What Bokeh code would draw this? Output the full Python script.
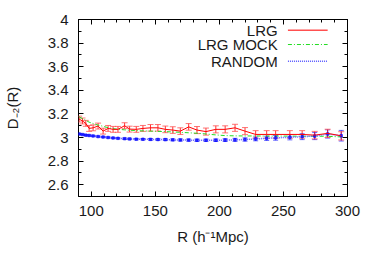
from bokeh.plotting import figure
from bokeh.models import (ColumnDataSource, Whisker, TeeHead, LinearAxis,
                          SingleIntervalTicker, Range1d, CustomJSTickFormatter)
from bokeh.core.properties import value
from bokeh.embed import file_html
from bokeh.resources import INLINE

# ---- data ----
r = [90.5, 93.1, 95.7, 98.3, 101.4, 105.3, 109.2, 113.1, 117.0, 120.8,
     126.0, 129.9, 135.1, 140.3, 146.2, 152.0, 157.8, 163.6, 169.5, 176.0,
     182.5, 189.5, 197.2, 204.5, 212.2, 220.0, 228.3, 236.9, 243.9, 255.0,
     264.6, 274.4, 284.5, 295.1]
lrg = [3.156, 3.140, 3.120, 3.077, 3.082, 3.097, 3.054, 3.077, 3.069, 3.069,
       3.100, 3.071, 3.069, 3.077, 3.082, 3.082, 3.069, 3.063, 3.054, 3.090,
       3.063, 3.050, 3.069, 3.069, 3.082, 3.054, 3.026, 3.026, 3.026, 3.026,
       3.026, 3.020, 3.035, 3.014]
lrg_err = [0.025, 0.025, 0.025, 0.025, 0.025, 0.025, 0.025, 0.025, 0.025, 0.025,
           0.025, 0.025, 0.025, 0.025, 0.028, 0.028, 0.028, 0.028, 0.028, 0.028,
           0.030, 0.030, 0.030, 0.030, 0.030, 0.030, 0.032, 0.032, 0.032, 0.032,
           0.032, 0.032, 0.035, 0.035]
mock = [3.175, 3.160, 3.145, 3.130, 3.118, 3.105, 3.095, 3.083, 3.075, 3.070,
        3.065, 3.062, 3.058, 3.056, 3.054, 3.052, 3.050, 3.047, 3.044, 3.040,
        3.036, 3.030, 3.022, 3.016, 3.014, 3.013, 3.013, 3.012, 3.012, 3.012,
        3.011, 3.011, 3.010, 3.005]
rand = [3.030, 3.025, 3.020, 3.017, 3.013, 3.008, 3.004, 3.000, 2.996, 2.993,
        2.990, 2.988, 2.986, 2.985, 2.984, 2.983, 2.982, 2.980, 2.979, 2.978,
        2.977, 2.977, 2.977, 2.978, 2.980, 2.983, 2.988, 2.993, 2.997, 3.002,
        3.007, 3.012, 3.030, 3.015]
rand_err = [0.005, 0.005, 0.005, 0.005, 0.005, 0.005, 0.005, 0.005, 0.005, 0.005,
            0.006, 0.006, 0.006, 0.006, 0.007, 0.007, 0.008, 0.008, 0.009, 0.009,
            0.010, 0.010, 0.011, 0.012, 0.013, 0.014, 0.016, 0.018, 0.020, 0.022,
            0.025, 0.030, 0.035, 0.045]
legend_labels = ["LRG", "LRG MOCK", "RANDOM"]
x_ticks = [100, 150, 200, 250, 300]
y_ticks = [2.6, 2.8, 3.0, 3.2, 3.4, 3.6, 3.8, 4.0]

RED = "#ff0000"
GREEN = "#22dd22"
BLUE = "#0000ff"
BLUE_LINE = "#5a5aff"
FONT = "Liberation Sans"
FS = "15px"

src = ColumnDataSource(dict(
    r=r, lrg=lrg, mock=mock, rand=rand,
    lrg_lo=[a - b for a, b in zip(lrg, lrg_err)],
    lrg_hi=[a + b for a, b in zip(lrg, lrg_err)],
    rand_lo=[a - b for a, b in zip(rand, rand_err)],
    rand_hi=[a + b for a, b in zip(rand, rand_err)],
))

p = figure(width=374, height=262, x_range=Range1d(90, 300), y_range=Range1d(2.5, 4.0),
           output_backend="svg", toolbar_location=None,
           min_border_left=77, min_border_right=27, min_border_top=19, min_border_bottom=66,
           x_axis_label="R (h\u207b\u00b9Mpc)", y_axis_label="D\u208b\u2082(R)")
p.grid.visible = False
p.outline_line_color = "black"
p.outline_line_width = 1
p.background_fill_color = "white"
p.border_fill_color = "white"

p.xaxis.ticker = SingleIntervalTicker(interval=50, num_minor_ticks=5)
p.yaxis.ticker = SingleIntervalTicker(interval=0.2, num_minor_ticks=2)

def style(ax):
    ax.axis_line_color = None
    ax.major_tick_in = 5
    ax.major_tick_out = 0
    ax.minor_tick_in = 3
    ax.minor_tick_out = 0
    ax.major_tick_line_color = "black"
    ax.minor_tick_line_color = "black"
    ax.major_label_text_font = FONT
    ax.major_label_text_font_size = FS
    ax.major_label_text_color = "#1a1a1a"
    ax.axis_label_text_font = FONT
    ax.axis_label_text_font_size = FS
    ax.axis_label_text_font_style = "normal"
    ax.axis_label_text_color = "#1a1a1a"

style(p.xaxis[0])
style(p.yaxis[0])
p.xaxis.major_label_standoff = 9
p.yaxis.major_label_standoff = 10
p.xaxis.axis_label_standoff = 9
p.yaxis.axis_label_standoff = 24

# mirrored tick marks on top and right, without labels
top = LinearAxis(ticker=SingleIntervalTicker(interval=50, num_minor_ticks=5),
                 formatter=CustomJSTickFormatter(code="return ''"))
right = LinearAxis(ticker=SingleIntervalTicker(interval=0.2, num_minor_ticks=2),
                   formatter=CustomJSTickFormatter(code="return ''"))
style(top)
style(right)
top.major_label_standoff = 0
right.major_label_standoff = 0
p.add_layout(top, "above")
p.add_layout(right, "right")

# LRG MOCK
p.line("r", "mock", source=src, color=GREEN, line_width=1, line_dash="4 2 1 2")
# RANDOM
p.add_layout(Whisker(base="r", lower="rand_lo", upper="rand_hi", source=src,
                     line_color=BLUE, line_width=1, line_alpha=0.75,
                     upper_head=TeeHead(size=5, line_color=BLUE, line_alpha=0.6),
                     lower_head=TeeHead(size=5, line_color=BLUE, line_alpha=0.6)))
p.line("r", "rand", source=src, color=BLUE_LINE, line_width=1.5, line_dash="1 1")
p.scatter("r", "rand", source=src, marker="square", size=2.5, color=BLUE, alpha=0.6)
# LRG
p.add_layout(Whisker(base="r", lower="lrg_lo", upper="lrg_hi", source=src,
                     line_color=RED, line_width=1, line_alpha=0.8,
                     upper_head=TeeHead(size=6, line_color="#ff5050", line_alpha=0.8),
                     lower_head=TeeHead(size=6, line_color="#ff5050", line_alpha=0.8)))
p.line("r", "lrg", source=src, color=RED, line_width=1)

# legend (label left, sample right, gnuplot style)
leg_y = [3.909, 3.788, 3.647]
p.text(x=[245.5] * 3, y=leg_y, text=legend_labels, text_align="right",
       text_baseline="middle", text_font=value(FONT), text_font_size=FS,
       text_color="#1a1a1a")
p.segment(x0=[253.5], x1=[284.5], y0=[leg_y[0]], y1=[leg_y[0]],
          line_color="#ff5050", line_width=1.5)
p.segment(x0=[253.5], x1=[284.5], y0=[leg_y[1]], y1=[leg_y[1]],
          line_color=GREEN, line_width=1, line_dash="4 2 1 2")
p.segment(x0=[253.5], x1=[284.5], y0=[leg_y[2]], y1=[leg_y[2]],
          line_color=BLUE_LINE, line_width=1.5, line_dash="1 1")

open("out.html", "w").write(file_html(p, INLINE))
